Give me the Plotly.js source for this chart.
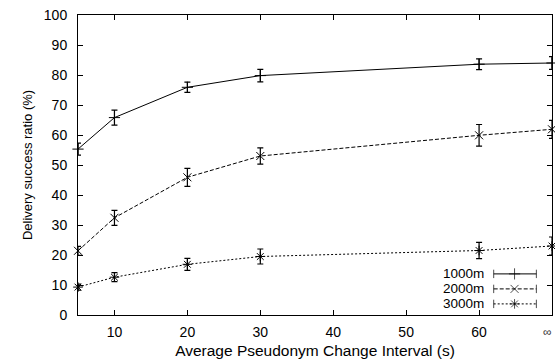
<!DOCTYPE html>
<html>
<head>
<meta charset="utf-8">
<script src="https://cdn.plot.ly/plotly-3.0.1.min.js"></script>
<style>html,body{margin:0;padding:0;background:#fff;}#chart{width:555px;height:363px;}</style>
</head>
<body>
<div id="chart"></div>
<script>
// x = 70 stands for the "∞" interval
const intervals = [5, 10, 20, 30, 60, 70];
const tickValues = [10, 20, 30, 40, 50, 60, 70];
const tickLabels = ['10', '20', '30', '40', '50', '60', ''];
const infinityLabel = '∞';
const infinityX = 70;
const seriesNames = ['1000m', '2000m', '3000m'];
const ratio1000 = [55.3, 65.8, 75.9, 79.8, 83.6, 84.0];
const err1000 = [2.0, 2.5, 1.7, 2.1, 1.8, 2.1];
const ratio2000 = [21.4, 32.4, 45.9, 53.0, 59.9, 61.9];
const err2000 = [1.5, 2.5, 3.0, 2.7, 3.6, 3.0];
const ratio3000 = [9.3, 12.6, 16.9, 19.5, 21.5, 23.0];
const err3000 = [1.0, 1.5, 2.0, 2.5, 2.7, 3.0];

const font = 'Liberation Sans, Arial, Helvetica, sans-serif';
const styles = [
  {dash: 'solid', symbol: 'cross-thin-open', size: 8},
  {dash: '4px,2px', symbol: 'x-thin-open', size: 8},
  {dash: '2px,2px', symbol: 'asterisk-open', size: 8}
];
const values = [ratio1000, ratio2000, ratio3000];
const errors = [err1000, err2000, err3000];

const traces = values.map((v, i) => ({
  type: 'scatter', mode: 'lines+markers', name: seriesNames[i],
  x: intervals, y: v,
  line: {color: '#000', width: 1, dash: styles[i].dash},
  marker: {symbol: styles[i].symbol, size: styles[i].size, color: '#000', line: {color: '#000', width: 1}},
  error_y: {type: 'data', array: errors[i], visible: true, color: '#000', thickness: 1.2, width: 3},
  showlegend: false, cliponaxis: false
}));

// hand-made gnuplot-style legend (text left, sample right)
const legRowY = [0.137, 0.087, 0.037];
const legX0 = 0.877, legXm = 0.921, legX1 = 0.967;
const annotations = [];
seriesNames.forEach((n, i) => {
  annotations.push({xref: 'paper', yref: 'paper', x: 0.858, y: legRowY[i], xanchor: 'right', yanchor: 'middle',
    text: n, showarrow: false, borderpad: 0, font: {family: font, size: 13.5, color: '#000'}});
  traces.push({
    type: 'scatter', mode: 'lines+markers', xaxis: 'x2', yaxis: 'y2', showlegend: false, hoverinfo: 'skip',
    x: [legX0, legXm, legX1], y: [legRowY[i], legRowY[i], legRowY[i]],
    line: {color: '#000', width: 1, dash: styles[i].dash},
    marker: {symbol: ['line-ns-open', styles[i].symbol, 'line-ns-open'], size: [6, styles[i].size, 6],
      color: '#000', line: {color: '#000', width: 1}},
    cliponaxis: false
  });
});
annotations.push({xref: 'x', yref: 'paper', x: infinityX, y: -0.055, xanchor: 'right', yanchor: 'middle',
  xshift: 1, text: infinityLabel, showarrow: false, borderpad: 0, font: {family: font, size: 12, color: '#333'}});

const layout = {
  width: 555, height: 363,
  margin: {l: 78, r: 3, t: 15, b: 48},
  paper_bgcolor: '#fff', plot_bgcolor: '#fff',
  font: {family: font, size: 14, color: '#000'},
  showlegend: false,
  xaxis: {
    range: [5, 70], tickvals: tickValues, ticktext: tickLabels,
    ticks: 'inside', ticklen: 5, tickcolor: '#000', tickwidth: 1,
    showline: true, linecolor: '#000', linewidth: 1, mirror: 'ticks',
    showgrid: false, zeroline: false, ticklabelstandoff: 4,
    tickfont: {family: font, size: 14},
    title: {text: 'Average Pseudonym Change Interval (s)', font: {family: font, size: 15.5}, standoff: 6}
  },
  yaxis: {
    range: [0, 100], dtick: 10, tick0: 0,
    ticks: 'inside', ticklen: 5, tickcolor: '#000', tickwidth: 1,
    showline: true, linecolor: '#000', linewidth: 1, mirror: 'ticks',
    showgrid: false, zeroline: false, ticklabelstandoff: 7,
    tickfont: {family: font, size: 14},
    title: {text: 'Delivery success ratio (%)', font: {family: font, size: 13}, standoff: 8}
  },
  xaxis2: {overlaying: 'x', range: [0, 1], visible: false, fixedrange: true},
  yaxis2: {overlaying: 'y', range: [0, 1], visible: false, fixedrange: true},
  annotations: annotations
};

Plotly.newPlot('chart', traces, layout, {displayModeBar: false, staticPlot: true});
</script>
</body>
</html>
